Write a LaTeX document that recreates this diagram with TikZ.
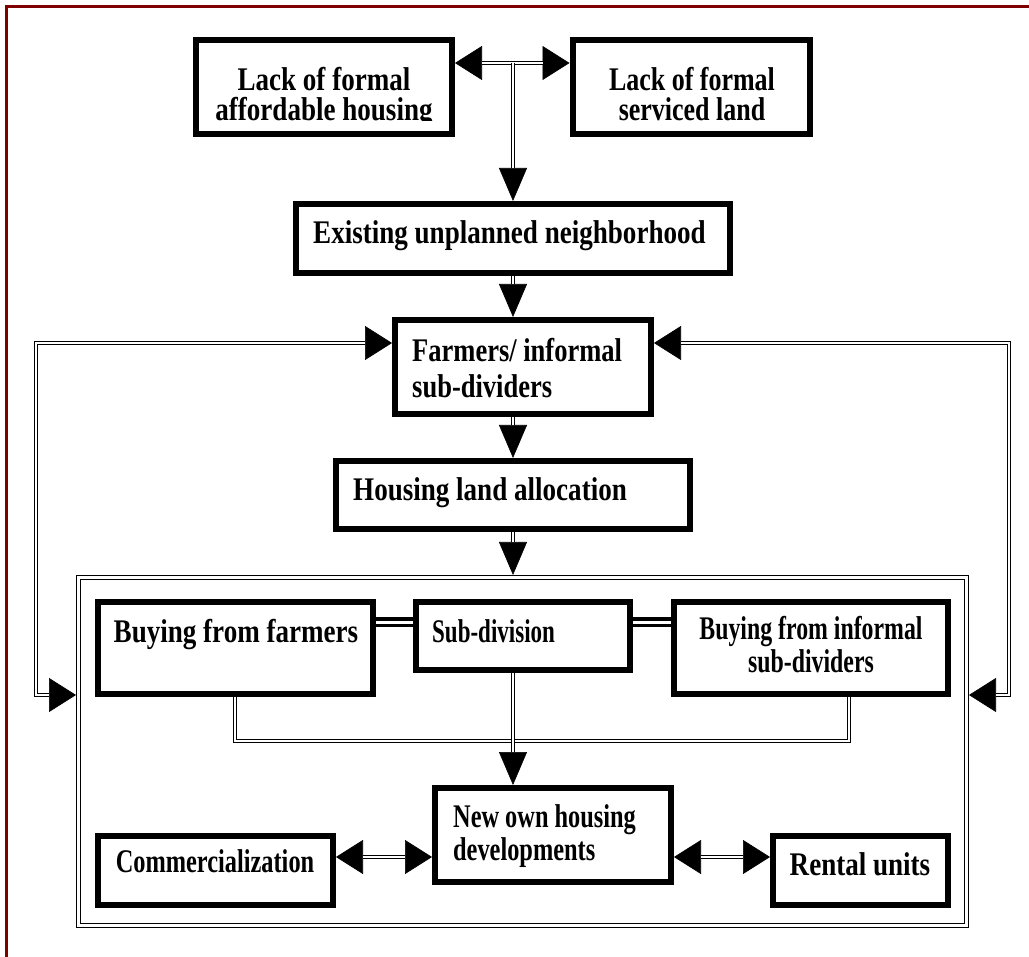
\documentclass[tikz,border=0pt]{standalone}
\usepackage{graphicx}
\usepackage{fontspec}
\setmainfont{Liberation Serif}[FakeStretch=0.82]
\usetikzlibrary{arrows.meta}
\definecolor{framered}{RGB}{128,0,0}
\tikzset{
  box/.style={draw, line width=6pt, inner sep=0pt, fill=white},
  txt/.style={font=\fontsize{33}{36}\selectfont\bfseries, inner sep=0pt},
  dline/.style={double=white, line width=1.2pt, double distance=2.4pt},
  thickdline/.style={double=white, line width=3.5pt, double distance=3pt},
  tippath/.style={line width=0.6pt},
  tipV/.style={-{Triangle[length=33pt,width=28pt]}},
  tipHH/.style={{Triangle[length=27pt,width=34pt]}-{Triangle[length=27pt,width=34pt]}},
  cutV/.style={shorten >=33pt},
  cutHH/.style={shorten >=27pt, shorten <=27pt},
}
% #1 tip style, #2 shorten style, #3 path
\newcommand\arrconn[3]{\draw[tippath,#1] #3; \draw[dline,#2] #3;}
\newcommand\squeeze[2]{\scalebox{#1}[1]{#2}}
\begin{document}
\begin{tikzpicture}[x=1pt,y=-1pt]
\useasboundingbox (0,0) rectangle (1029,957);
\clip (0,0) rectangle (1029,957);
\fill[white] (0,0) rectangle (1029,957);
\draw[framered, line width=3.5pt] (6.5,980) -- (6.5,6.5) -- (1050,6.5);

% boxes
\node[box, minimum width=256pt, minimum height=94pt] (b1) at (324,87) {};
\node[box, minimum width=237pt, minimum height=94pt] (b2) at (691,87) {};
\node[box, minimum width=434pt, minimum height=69pt] (b3) at (513,238.5) {};
\node[box, minimum width=256pt, minimum height=94pt] (b4) at (523,367) {};
\node[box, minimum width=354pt, minimum height=68pt] (b5) at (513,495) {};
\node[draw, dline, inner sep=0pt, outer sep=2.4pt, minimum width=888.2pt, minimum height=348.2pt] (ob) at (522.5,751.5) {};
\node[box, minimum width=275pt, minimum height=92pt] (b6) at (235.5,648) {};
\node[box, minimum width=214pt, minimum height=68pt] (b7) at (523,636) {};
\node[box, minimum width=274pt, minimum height=92pt] (b8) at (811,648) {};
\node[box, minimum width=236pt, minimum height=94pt] (b9) at (553,835) {};
\node[box, minimum width=235pt, minimum height=69pt] (b10) at (215.5,870.5) {};
\node[box, minimum width=175pt, minimum height=69pt] (b11) at (860.5,870.5) {};

% texts
\begin{scope}
\clip (190,40) rectangle (830,121);
\node[txt, anchor=base] (t1) at (324,91) {\begin{tabular}[t]{@{}c@{}}Lack of formal\\[-6pt]affordable housing\end{tabular}};
\node[txt, anchor=base] (t2) at (692,91) {\squeeze{0.96}{\begin{tabular}[t]{@{}c@{}}Lack of formal\\[-6pt]serviced land\end{tabular}}};
\end{scope}
\node[txt, anchor=base west] (t3) at (313,244) {Existing unplanned neighborhood};
\node[txt, anchor=base west] (t4) at (412,362) {\squeeze{0.98}{\begin{tabular}[t]{@{}l@{}}Farmers/ informal\\sub-dividers\end{tabular}}};
\node[txt, anchor=base west] (t5) at (353,501) {Housing land allocation};
\node[txt, anchor=base] (t6) at (236,642) {Buying from farmers};
\node[txt, anchor=base west] (t7) at (432,642) {\squeeze{0.85}{Sub-division}};
\node[txt, anchor=base] (t8) at (811,639) {\squeeze{0.88}{\begin{tabular}[t]{@{}c@{}}Buying from informal\\[-3pt]sub-dividers\end{tabular}}};
\node[txt, anchor=base west] (t9) at (453,827) {\squeeze{0.9}{\begin{tabular}[t]{@{}l@{}}New own housing\\[-3pt]developments\end{tabular}}};
\node[txt, anchor=base] (t10) at (215,872) {\squeeze{0.9}{Commercialization}};
\node[txt, anchor=base] (t11) at (860,875) {Rental units};

% helper coordinates
\coordinate (j) at (513,63);
\coordinate (LL) at (36,695);
\coordinate (RL) at (1009,695);
\coordinate (m1) at (235,741);
\coordinate (m2) at (849,741);

% connectors
\arrconn{tipHH}{cutHH}{([yshift=24pt]b1.east) -- ([yshift=24pt]b1.east -| b2.west)}
\arrconn{tipV}{cutV}{(j) -- (j |- b3.north)}
\arrconn{tipV}{cutV}{(b3.south) -- (b3.south |- b4.north)}
\arrconn{tipV}{cutV}{(b3.south |- b4.south) -- (b3.south |- b5.north)}
\arrconn{tipV}{cutV}{(b5.south) -- (b5.south |- ob.north)}
\arrconn{tipHH}{cutHH}{([yshift=24pt]b4.west) -| (LL) -- (LL -| ob.west)}
\arrconn{tipHH}{cutHH}{([yshift=24pt]b4.east) -| (RL) -- (RL -| ob.east)}
\draw[thickdline] ([yshift=26pt]b6.east) -- ([yshift=26pt]b6.east -| b7.west);
\draw[thickdline] ([yshift=14pt]b7.east) -- ([yshift=14pt]b7.east -| b8.west);
\draw[dline] (m1 |- b6.south) -- (m1) -- (m2) -- (m2 |- b8.south);
\arrconn{tipV}{cutV}{(b3.south |- b7.south) -- (b3.south |- b9.north)}
\arrconn{tipHH}{cutHH}{([yshift=13.5pt]b10.east) -- ([yshift=13.5pt]b10.east -| b9.west)}
\arrconn{tipHH}{cutHH}{([yshift=-22pt]b9.east) -- ([yshift=-22pt]b9.east -| b11.west)}
\end{tikzpicture}
\end{document}
